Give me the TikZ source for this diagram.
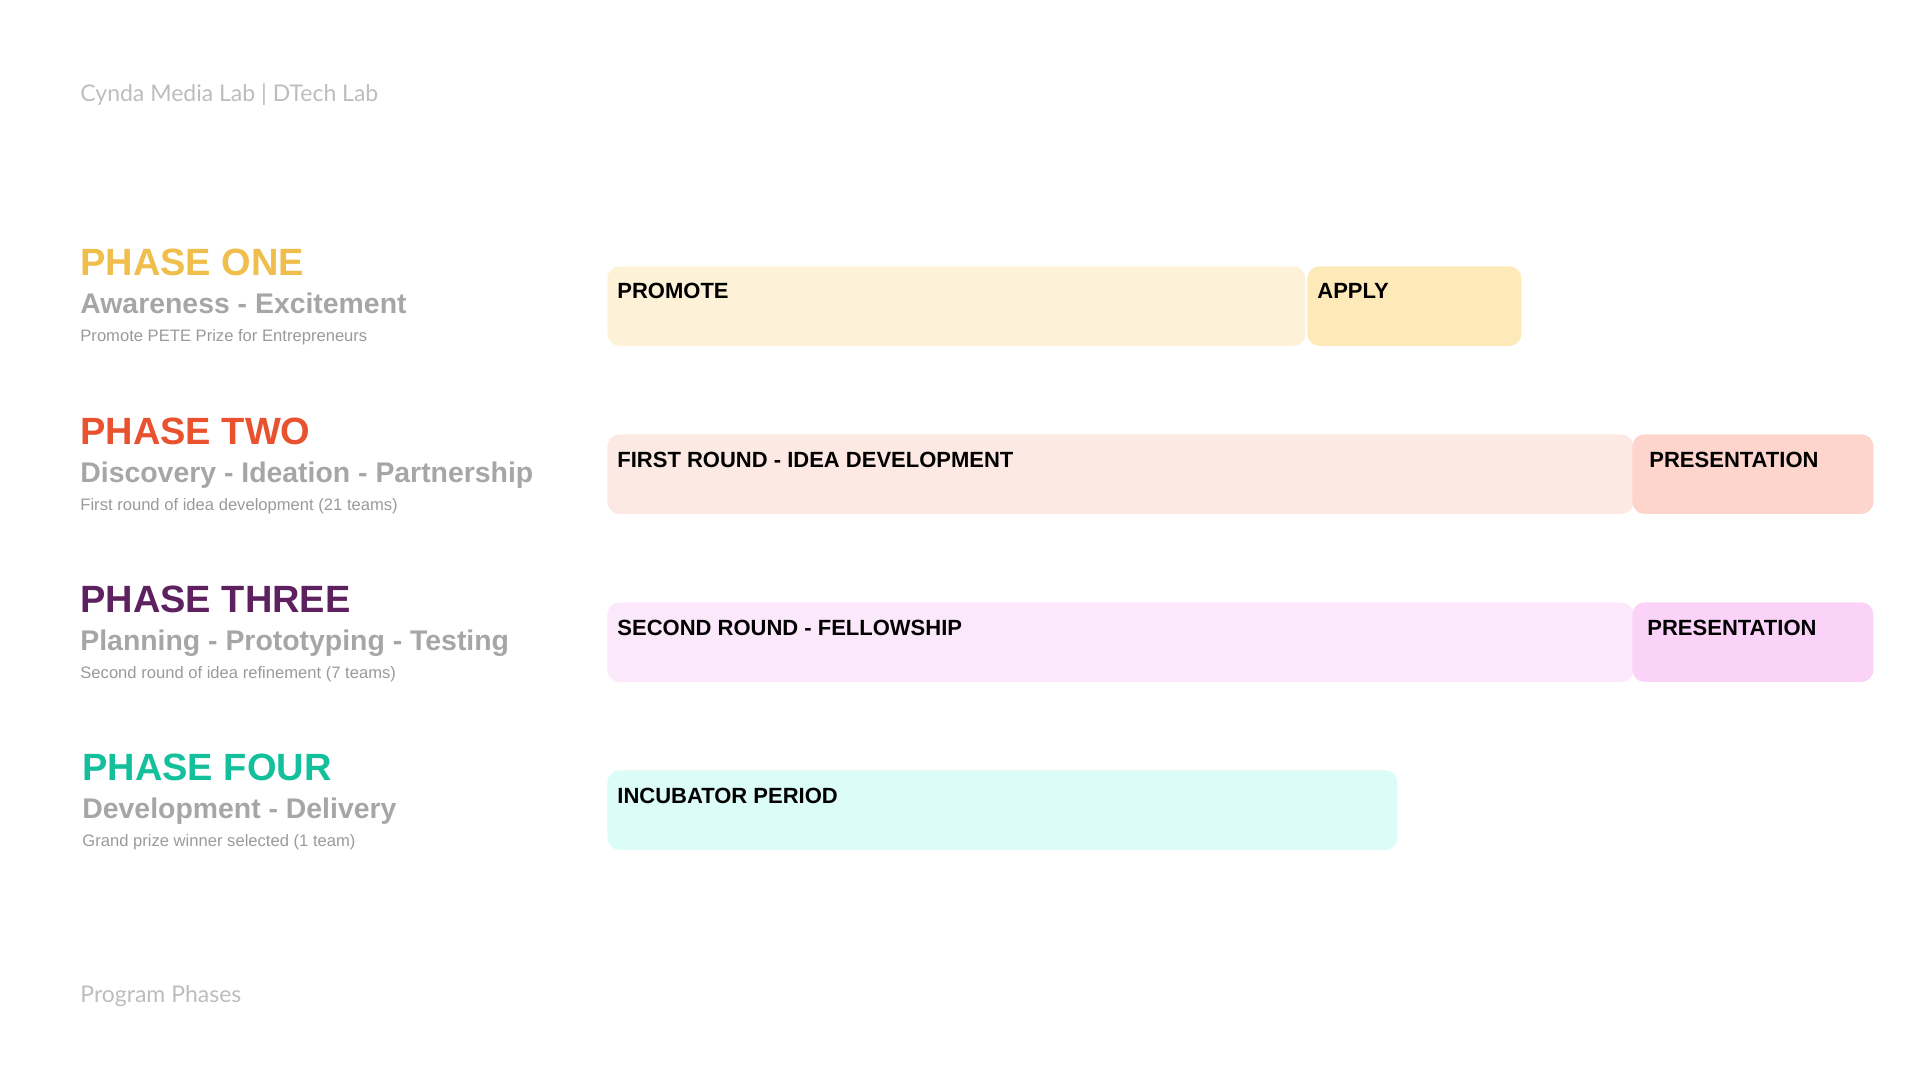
\documentclass[tikz,border=0pt]{standalone}
\usepackage{fontspec}
\setmainfont{Liberation Sans}
\newfontfamily\headfont{Lato}
\usepackage{tikz}
\usetikzlibrary{positioning}

\definecolor{headgray}{HTML}{BDBDBD}
\definecolor{subgray}{HTML}{A6A6A6}
\definecolor{notegray}{HTML}{9A9A9A}
\definecolor{oneyellow}{HTML}{F0BE4C}
\definecolor{twored}{HTML}{E8522F}
\definecolor{threepurple}{HTML}{5E2160}
\definecolor{fourteal}{HTML}{14BF9B}
\definecolor{promotefill}{HTML}{FDF2D7}
\definecolor{applyfill}{HTML}{FEE9B8}
\definecolor{roundonefill}{HTML}{FDE9E3}
\definecolor{presonefill}{HTML}{FDD5CC}
\definecolor{roundtwofill}{HTML}{FCE8FB}
\definecolor{prestwofill}{HTML}{FBD3F8}
\definecolor{incubfill}{HTML}{DCFCF7}

\tikzset{
  headtext/.style={anchor=base west, inner sep=0pt, font=\headfont\fontsize{11.5}{14}\selectfont, text=headgray},
  phasetitle/.style={anchor=base west, inner sep=0pt, font=\bfseries\fontsize{19}{22}\selectfont},
  phasesub/.style={anchor=base west, inner sep=0pt, font=\bfseries\fontsize{14.2}{17}\selectfont, text=subgray},
  phasenote/.style={anchor=base west, inner sep=0pt, font=\fontsize{8.3}{10}\selectfont, text=notegray},
  barbox/.style={rectangle, rounded corners=6pt, anchor=north west, minimum height=39.75pt, inner sep=0pt},
  barlabel/.style={anchor=base west, inner sep=0pt, font=\bfseries\fontsize{11}{13}\selectfont, text=black},
}

\begin{document}
\begin{tikzpicture}[x=0.5pt, y=-0.5pt]
  \useasboundingbox (0,0) rectangle (1920,1080);

  % Header and footer
  \node[headtext] (head) at (80,102) {Cynda Media Lab | DTech Lab};
  \node[headtext] (foot) at (80,1002) {Program Phases};

  % Phase one
  \node[phasetitle, text=oneyellow] (p1) at (80,276) {PHASE ONE};
  \node[phasesub] (p1sub) at (80,314) {Awareness - Excitement};
  \node[phasenote] (p1note) at (80,342) {Promote PETE Prize for Entrepreneurs};
  \node[barbox, fill=promotefill, minimum width=349pt] (promote) at (607,266) {};
  \node[barbox, fill=applyfill, minimum width=107pt] (apply) at (1307,266) {};
  \node[barlabel] at ([xshift=5pt, yshift=-16.5pt]promote.north west) {PROMOTE};
  \node[barlabel] at ([xshift=5pt, yshift=-16.5pt]apply.north west) {APPLY};

  % Phase two
  \node[phasetitle, text=twored] (p2) at (80,444) {PHASE TWO};
  \node[phasesub] (p2sub) at (80,482) {Discovery - Ideation - Partnership};
  \node[phasenote] (p2note) at (80,510) {First round of idea development (21 teams)};
  \node[barbox, fill=roundonefill, minimum width=513pt] (round1) at (607,434) {};
  \node[barbox, fill=presonefill, minimum width=120.5pt] (pres1) at (1632,434) {};
  \node[barlabel] at ([xshift=5pt, yshift=-16.5pt]round1.north west) {FIRST ROUND - IDEA DEVELOPMENT};
  \node[barlabel] at ([xshift=8.5pt, yshift=-16.5pt]pres1.north west) {PRESENTATION};

  % Phase three
  \node[phasetitle, text=threepurple] (p3) at (80,612) {PHASE THREE};
  \node[phasesub] (p3sub) at (80,650) {Planning - Prototyping - Testing};
  \node[phasenote] (p3note) at (80,678) {Second round of idea refinement (7 teams)};
  \node[barbox, fill=roundtwofill, minimum width=513pt] (round2) at (607,602) {};
  \node[barbox, fill=prestwofill, minimum width=120.5pt] (pres2) at (1632,602) {};
  \node[barlabel] at ([xshift=5pt, yshift=-16.5pt]round2.north west) {SECOND ROUND - FELLOWSHIP};
  \node[barlabel] at ([xshift=7.5pt, yshift=-16.5pt]pres2.north west) {PRESENTATION};

  % Phase four
  \node[phasetitle, text=fourteal] (p4) at (82,780) {PHASE FOUR};
  \node[phasesub] (p4sub) at (82,818) {Development - Delivery};
  \node[phasenote] (p4note) at (82,846) {Grand prize winner selected (1 team)};
  \node[barbox, fill=incubfill, minimum width=395pt] (incub) at (607,770) {};
  \node[barlabel] at ([xshift=5pt, yshift=-16.5pt]incub.north west) {INCUBATOR PERIOD};
\end{tikzpicture}
\end{document}
